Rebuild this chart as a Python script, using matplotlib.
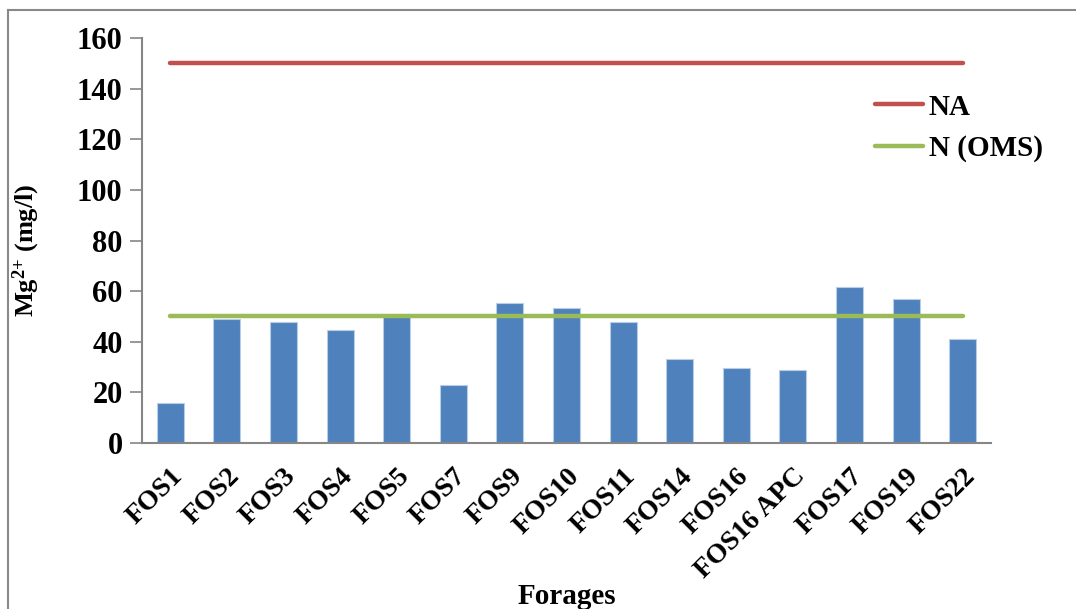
import matplotlib
matplotlib.use("Agg")
import matplotlib.pyplot as plt
from matplotlib.lines import Line2D
import numpy as np

# Mg2+ concentrations per borehole (mg/l)
forages = ["FOS1", "FOS2", "FOS3", "FOS4", "FOS5", "FOS7", "FOS9", "FOS10",
           "FOS11", "FOS14", "FOS16", "FOS16 APC", "FOS17", "FOS19", "FOS22"]
mg = [16, 49, 48, 44.5, 50.5, 23, 55.5, 53.5, 48, 33, 29.5, 28.7, 61.8, 57, 41]
norme_na = 150   # NA
norme_oms = 50   # N (OMS)

plt.rcParams["font.family"] = "Liberation Serif"
plt.rcParams["font.weight"] = "bold"
plt.rcParams["mathtext.fontset"] = "custom"
plt.rcParams["mathtext.rm"] = "Liberation Serif:bold"
plt.rcParams["mathtext.it"] = "Liberation Serif:bold"
plt.rcParams["mathtext.bf"] = "Liberation Serif:bold"

W, H = 1076, 609
fig = plt.figure(figsize=(W / 100, H / 100), dpi=100)
ax = fig.add_axes([142 / W, 1 - 443 / H, 849 / W, 405 / H])

x = np.arange(len(forages))
ax.bar(x, mg, width=0.48, color="#4F81BD", edgecolor="#B9CDE5", linewidth=0.8, zorder=2)
ax.plot(x, [norme_na] * len(x), color="#C0504D", lw=3.2, solid_capstyle="round",
        label="NA", zorder=3)
ax.plot(x, [norme_oms] * len(x), color="#9BBB59", lw=3.2, solid_capstyle="round",
        label="N (OMS)", zorder=3)

ax.set_xlim(-0.5, len(x) - 0.5)
ax.set_ylim(0, 160)
ax.set_yticks(range(0, 161, 20))
ax.set_xticks(x)
ax.set_xticklabels(forages, rotation=45, ha="right", va="top",
                   rotation_mode="anchor", fontsize=20, fontweight="bold")
ax.tick_params(axis="x", length=0, pad=15)
ax.tick_params(axis="y", direction="out", length=9, width=1.2, color="#868686",
               labelsize=22, pad=5)

for side in ("top", "right"):
    ax.spines[side].set_visible(False)
for side in ("left", "bottom"):
    ax.spines[side].set_color("#868686")
    ax.spines[side].set_linewidth(1.5)

ax.set_ylabel(r"Mg$^{2{+}}$ (mg/l)", fontsize=19, fontweight="bold")
ax.yaxis.set_label_coords(-0.118, 0.477)
fig.text(567 / W, 1 - 597 / H, "Forages", fontsize=21, fontweight="bold",
         ha="center", va="center")

ax.legend(loc="center left", bbox_to_anchor=(860 / W, 1 - 128 / H),
          bbox_transform=fig.transFigure, frameon=False, fontsize=21,
          handlelength=1.65, handletextpad=0.2, labelspacing=0.5, borderpad=0)

# chart frame (left and top edges)
fig.add_artist(Line2D([8 / W, 8 / W], [0, 1 - 10 / H], transform=fig.transFigure,
                      color="#898989", lw=1.5))
fig.add_artist(Line2D([8 / W, 1], [1 - 10 / H, 1 - 10 / H], transform=fig.transFigure,
                      color="#898989", lw=1.5))

fig.savefig("out.png", dpi=100)
